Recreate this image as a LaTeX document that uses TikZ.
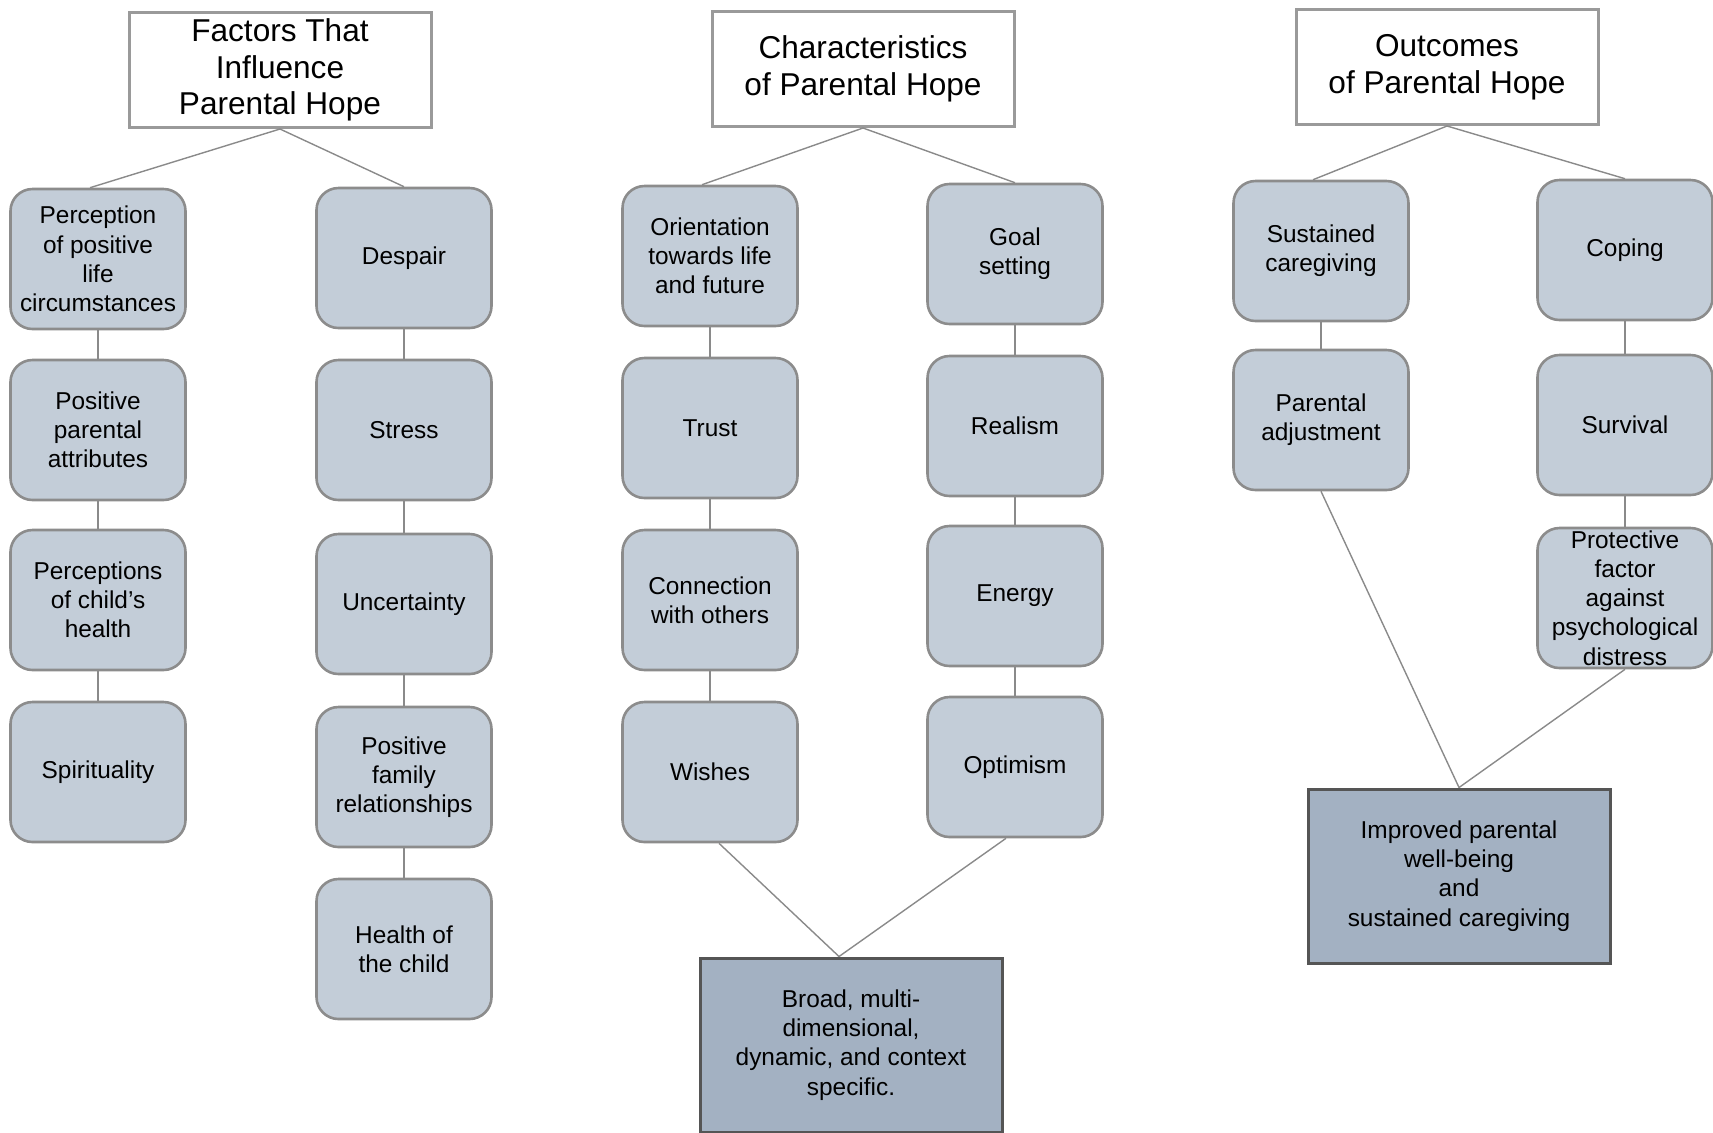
\documentclass[tikz,border=0pt]{standalone}
\usepackage{fontspec}
\setmainfont{Liberation Sans}
\usepackage{tikz}
\usetikzlibrary{calc}

\definecolor{boxfill}{HTML}{C3CDD8}
\definecolor{boxline}{HTML}{8C8C8C}
\definecolor{endfill}{HTML}{A3B1C2}
\definecolor{endline}{HTML}{555555}
\definecolor{headline}{HTML}{9A9A9A}
\definecolor{linkc}{HTML}{8A8A8A}

\begin{document}
\begin{tikzpicture}[x=0.5pt,y=-0.5pt,
  head/.style={draw=headline, line width=1.5pt, fill=white, minimum width=151pt, minimum height=57.5pt,
    align=center, inner sep=0pt, font=\fontsize{15.8}{18.4}\selectfont},
  item/.style={draw=boxline, line width=1.3pt, fill=boxfill, rounded corners=11pt, minimum width=87.5pt,
    minimum height=70pt, align=center, inner sep=1pt, font=\fontsize{12.2}{14.6}\selectfont},
  result/.style={draw=endline, line width=1.5pt, fill=endfill, minimum width=151pt, minimum height=87pt,
    align=center, font=\fontsize{12.2}{14.6}\selectfont},
  link/.style={draw=linkc, line width=0.7pt}]

\useasboundingbox (0,0) rectangle (1713,1132);

% headers
\node[head] (hf) at (280,70) {Factors That\\Influence\\Parental Hope};
\node[head] (hc) at (863,69) {Characteristics\\of Parental Hope};
\node[head] (ho) at (1447,67) {Outcomes\\of Parental Hope};

% factors
\node[item] (fa1) at (98,259) {Perception\\of positive\\life\\circumstances};
\node[item] (fa2) at (98,430) {Positive\\parental\\attributes};
\node[item] (fa3) at (98,600) {Perceptions\\of child’s\\health};
\node[item] (fa4) at (98,772) {Spirituality};

\node[item] (fb1) at (404,258) {Despair};
\node[item] (fb2) at (404,430) {Stress};
\node[item] (fb3) at (404,604) {Uncertainty};
\node[item] (fb4) at (404,777) {Positive\\family\\relationships};
\node[item] (fb5) at (404,949) {Health of\\the child};

% characteristics
\node[item] (ca1) at (710,256) {Orientation\\towards life\\and future};
\node[item] (ca2) at (710,428) {Trust};
\node[item] (ca3) at (710,600) {Connection\\with others};
\node[item] (ca4) at (710,772) {Wishes};

\node[item] (cb1) at (1015,254) {Goal\\setting};
\node[item] (cb2) at (1015,426) {Realism};
\node[item] (cb3) at (1015,596) {Energy};
\node[item] (cb4) at (1015,767) {Optimism};

% outcomes
\node[item] (oa1) at (1321,251) {Sustained\\caregiving};
\node[item] (oa2) at (1321,420) {Parental\\adjustment};

\node[item] (ob1) at (1625,250) {Coping};
\node[item] (ob2) at (1625,425) {Survival};
\node[item, inner ysep=-1.5pt] (ob3) at (1625,598) {Protective\\factor\\against\\psychological\\distress};

% summary boxes
\node[result] (bc) at (851,1045) {Broad, multi-\\dimensional,\\dynamic, and context\\specific.};
\node[result] (bo) at (1459,876) {Improved parental\\well-being\\and\\sustained caregiving};

% links from headers
\foreach \h/\a/\b in {hf/fa1/fb1, hc/ca1/cb1, ho/oa1/ob1}
{
  \draw[link] (\h.south) -- ($(\a.north)+(-8,0)$);
  \draw[link] (\h.south) -- (\b.north);
}

% links down the columns
\foreach \a/\b in {fa1/fa2, fa2/fa3, fa3/fa4, fb1/fb2, fb2/fb3, fb3/fb4, fb4/fb5,
  ca1/ca2, ca2/ca3, ca3/ca4, cb1/cb2, cb2/cb3, cb3/cb4, oa1/oa2, ob1/ob2, ob2/ob3}
  \draw[link] (\a.south) -- (\b.north);

% links to summary boxes
\draw[link] ($(ca4.south)+(9,0)$) -- ($(bc.north)+(-12,0)$);
\draw[link] ($(cb4.south)+(-9,0)$) -- ($(bc.north)+(-12,0)$);
\foreach \a in {oa2, ob3}
  \draw[link] (\a.south) -- (bo.north);

\end{tikzpicture}
\end{document}
